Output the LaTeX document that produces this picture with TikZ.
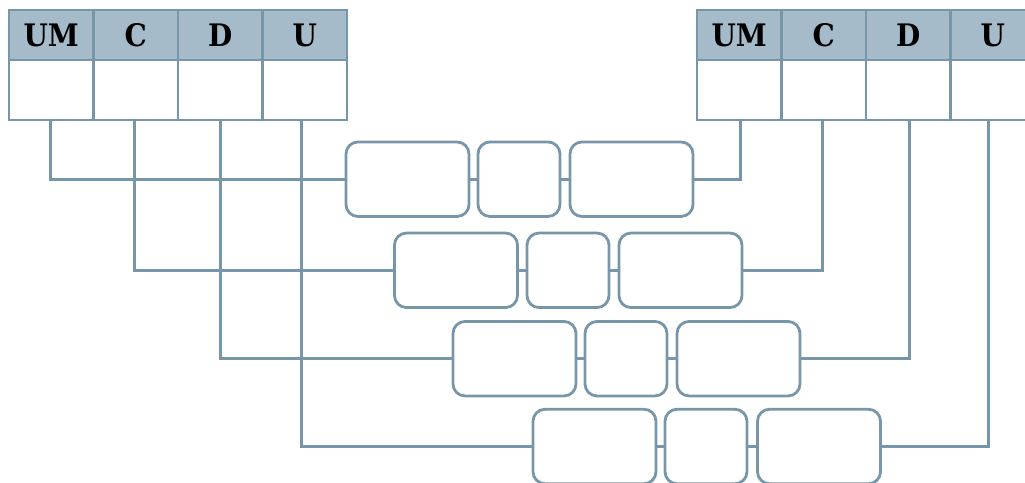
\documentclass[tikz,border=0pt]{standalone}
\usepackage{xcolor}
\usepackage{tikz}
\usepackage{fontspec}
\setmainfont{DejaVu Serif Condensed}
\definecolor{tblue}{HTML}{7796AA}
\definecolor{thead}{HTML}{A6BBCA}
\usetikzlibrary{positioning, calc}

\begin{document}
\begin{tikzpicture}[x=1pt, y=-1pt, line width=2.8pt,
  cell/.style={draw=tblue, minimum width=84.5pt, inner sep=0pt},
  headcell/.style={cell, fill=thead, minimum height=50pt, font=\fontsize{31}{31}\selectfont\bfseries},
  bodycell/.style={cell, minimum height=60pt},
  slot/.style={draw=tblue, rounded corners=12pt, minimum height=74.5pt, inner sep=0pt},
  wide/.style={slot, minimum width=123pt},
  narrow/.style={slot, minimum width=82pt},
  wire/.style={draw=tblue}]
\clip (0,0) rectangle (1025,482);
% Draw place value tables
\foreach \lab [count=\i] in {UM,C,D,U} {
  \node[headcell] (lh\i) at ({9+84.5*(\i-0.5)},35) {\lab};
  \node[bodycell] (lb\i) at ({9+84.5*(\i-0.5)},90) {};
  \node[headcell] (rh\i) at ({697+84.5*(\i-0.5)},35) {\lab};
  \node[bodycell] (rb\i) at ({697+84.5*(\i-0.5)},90) {};
}
% Draw rows of boxes and link them to the columns
\foreach \row/\y/\xa/\xb/\xc/\ls/\rs in {1/179.2/407.5/519/631.5/-0.5/1.5, 2/270.3/456/568/680.5/-1/-1, 3/358.7/514.5/626/738.5/0.5/1.5, 4/446.5/594.5/706/819/-3/-4} {
  \node[wide] (a\row) at (\xa,\y) {};
  \node[narrow] (b\row) at (\xb,\y) {};
  \node[wide] (c\row) at (\xc,\y) {};
  \draw[wire] (a\row) -- (b\row);
  \draw[wire] (b\row) -- (c\row);
  \draw[wire] ([xshift=\ls pt]lb\row.south) |- (a\row.west);
  \draw[wire] (c\row.east) -| ([xshift=\rs pt]rb\row.south);
}
\end{tikzpicture}
\end{document}
